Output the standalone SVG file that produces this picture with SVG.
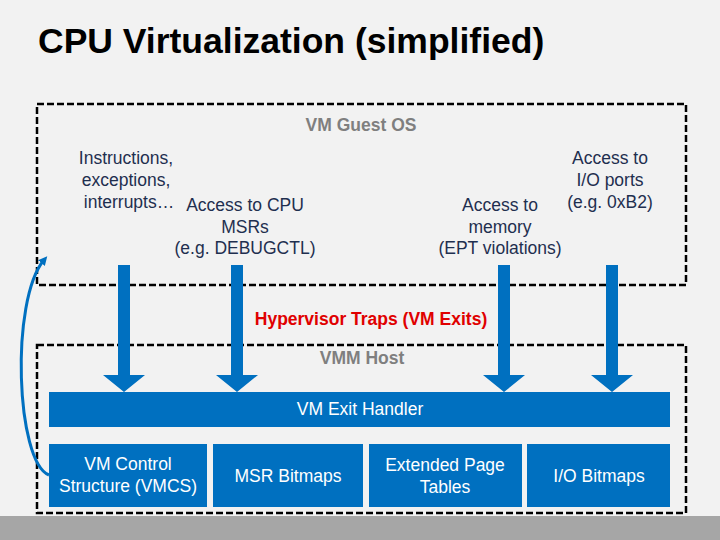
<svg xmlns="http://www.w3.org/2000/svg" width="720" height="540" viewBox="0 0 720 540">
<defs>
<style>
text{font-family:"Liberation Sans",Arial,sans-serif}
.lbl{font-size:17.5px;fill:#1f2f4f;text-anchor:middle}
.box{fill:#0070c0}
.bt{font-size:17.5px;fill:#fff;text-anchor:middle}
.dash{fill:none;stroke:#000;stroke-width:2.5;stroke-dasharray:7,3}
.arr{fill:#0070c0}
</style>
<marker id="ah" markerWidth="9" markerHeight="9" refX="4" refY="4.5" orient="auto" markerUnits="userSpaceOnUse"><path d="M0,0 L9,4.5 L0,9 Z" fill="#0070c0"/></marker>
</defs>
<rect width="720" height="540" fill="#f2f2f2"/>
<rect x="0" y="516" width="720" height="24" fill="#a6a6a6"/>
<text x="38" y="53" font-size="35.5" font-weight="bold" fill="#000">CPU Virtualization (simplified)</text>
<g id="guest">
<rect class="dash" x="37" y="104" width="649" height="181"/>
<text x="361" y="131" font-size="17.5" font-weight="bold" fill="#7f7f7f" text-anchor="middle">VM Guest OS</text>
<text class="lbl" x="126" y="164">Instructions,</text>
<text class="lbl" x="126" y="186">exceptions,</text>
<text class="lbl" x="129" y="208">interrupts…</text>
<text class="lbl" x="245" y="211">Access to CPU</text>
<text class="lbl" x="245" y="233">MSRs</text>
<text class="lbl" x="245" y="254">(e.g. DEBUGCTL)</text>
<text class="lbl" x="500" y="211">Access to</text>
<text class="lbl" x="500" y="233">memory</text>
<text class="lbl" x="500" y="254">(EPT violations)</text>
<text class="lbl" x="610" y="164">Access to</text>
<text class="lbl" x="610" y="186">I/O ports</text>
<text class="lbl" x="610" y="208">(e.g. 0xB2)</text>
</g>
<text x="371" y="325" font-size="17.5" font-weight="bold" fill="#e00000" text-anchor="middle">Hypervisor Traps (VM Exits)</text>
<g id="host">
<rect class="dash" x="37" y="345" width="649" height="168"/>
<text x="362" y="364" font-size="17.5" font-weight="bold" fill="#7f7f7f" text-anchor="middle">VMM Host</text>
</g>
<g id="exit-handler"><rect class="box" x="49" y="392" width="621" height="35"/><text class="bt" x="360" y="415">VM Exit Handler</text></g>
<g id="vmcs"><rect class="box" x="49" y="444" width="158" height="63"/><text class="bt" x="128" y="470">VM Control</text><text class="bt" x="128" y="492">Structure (VMCS)</text></g>
<g id="msr"><rect class="box" x="213" y="444" width="150" height="63"/><text class="bt" x="288" y="482">MSR Bitmaps</text></g>
<g id="ept"><rect class="box" x="369" y="444" width="153" height="63"/><text class="bt" x="445" y="471">Extended Page</text><text class="bt" x="445" y="493">Tables</text></g>
<g id="io"><rect class="box" x="527" y="444" width="143" height="63"/><text class="bt" x="599" y="482">I/O Bitmaps</text></g>
<g id="connectors">
<path class="arr" d="M118,265 h12 v110 h15 l-21,17 l-21,-17 h15 z"/>
<path class="arr" d="M231,265 h12 v110 h15 l-21,17 l-21,-17 h15 z"/>
<path class="arr" d="M498,265 h12 v110 h15 l-21,17 l-21,-17 h15 z"/>
<path class="arr" d="M606,265 h12 v110 h15 l-21,17 l-21,-17 h15 z"/>
<path d="M49,475 C16,462 10,300 44,260" fill="none" stroke="#0070c0" stroke-width="3" marker-end="url(#ah)"/>
</g>
</svg>
